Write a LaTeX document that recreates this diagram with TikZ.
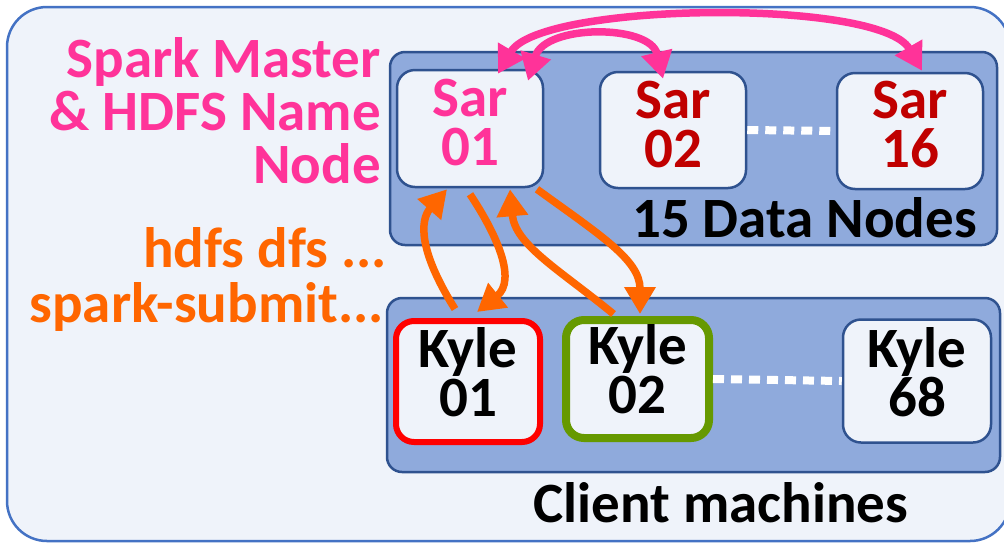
\documentclass[tikz,border=0pt]{standalone}
\usepackage{fontspec}
\setmainfont{Carlito}
\usetikzlibrary{arrows.meta,calc}
\definecolor{outerfill}{HTML}{EFF3FA}
\definecolor{outerline}{HTML}{4472C4}
\definecolor{groupfill}{HTML}{8FAADC}
\definecolor{groupline}{HTML}{2F528F}
\definecolor{pinkc}{HTML}{FF3399}
\definecolor{darkred}{HTML}{C00000}
\definecolor{orangec}{HTML}{FF6600}
\definecolor{greenc}{HTML}{669900}
\definecolor{redc}{HTML}{FF0000}
\tikzset{
  grp/.style={draw=groupline, line width=2.5pt, fill=groupfill, rounded corners=15pt, inner sep=0pt},
  nbox/.style={draw=groupline, line width=2.5pt, fill=outerfill, rounded corners=18pt, inner sep=0pt},
  ntext/.style={font=\fontsize{57}{49}\selectfont\bfseries, align=center, inner sep=0pt},
  lbl/.style={font=\fontsize{57}{53}\selectfont\bfseries, inner sep=0pt},
  dots/.style={draw=white, line width=8pt, dash pattern=on 11pt off 7pt},
  parrow/.style={draw=pinkc, line width=7.5pt, {Triangle[length=27pt,width=30pt]}-{Triangle[length=27pt,width=30pt]}},
  oarrow/.style={draw=orangec, line width=7.5pt, -{Triangle[length=27pt,width=30pt]}},
}
\begin{document}
\begin{tikzpicture}[x=1pt,y=-1pt]
\useasboundingbox[fill=white] (0,0) rectangle (1004,542);
% outer panel
\draw[draw=outerline, line width=2.5pt, fill=outerfill, rounded corners=40pt] (7,7) rectangle (1010,541);
% groups
\node[grp, minimum width=607pt, minimum height=193pt] (datagrp) at (693.5,148.5) {};
\node[grp, minimum width=613pt, minimum height=174pt] (clientgrp) at (693.5,385) {};
% data nodes
\node[nbox, minimum width=146pt, minimum height=117pt] (sar01) at (470,128.5) {};
\node[nbox, minimum width=146pt, minimum height=116pt] (sar02) at (673,130) {};
\node[nbox, minimum width=146pt, minimum height=116pt] (sar16) at (910,131) {};
\node[ntext, text=pinkc] (sar01t) at ([yshift=6pt]sar01.center) {Sar\\01};
\node[ntext, text=darkred] (sar02t) at ([yshift=6pt]sar02.center) {Sar\\02};
\node[ntext, text=darkred] (sar16t) at ([yshift=6pt]sar16.center) {Sar\\16};
\draw[dots] (sar02.east) -- (sar16.west);
\node[lbl, anchor=base east] (dnlabel) at (977,237) {15 Data Nodes};
% client nodes
\node[nbox, draw=redc, line width=6pt, minimum width=144pt, minimum height=121pt] (kyle01) at (468,381.5) {};
\node[nbox, draw=greenc, line width=8pt, minimum width=143pt, minimum height=118pt] (kyle02) at (637.5,379) {};
\node[nbox, minimum width=148pt, minimum height=123pt] (kyle68) at (917,381) {};
\node[ntext] (kyle01t) at ([yshift=9pt]kyle01.center) {Kyle\\01};
\node[ntext] (kyle02t) at ([yshift=10pt]kyle02.center) {Kyle\\02};
\node[ntext] (kyle68t) at ([yshift=9pt]kyle68.center) {Kyle\\68};
\draw[dots] (kyle02.east) -- (kyle68.west);
\node[lbl, anchor=base] (cmlabel) at (721,522) {Client machines};
% left labels
\node[lbl, text=pinkc, anchor=base east] (sm1) at (381,77) {Spark Master};
\node[lbl, text=pinkc, anchor=base east] (sm2) at (381,130) {\& HDFS Name};
\node[lbl, text=pinkc, anchor=base east] (sm3) at (381,183) {Node};
\node[lbl, text=orangec, anchor=base east] (cmd1) at (387,267) {hdfs dfs ...};
\node[lbl, text=orangec, anchor=base east] (cmd2) at (384,322) {spark-submit...};
% pink arrows
\draw[parrow] ([xshift=28pt,yshift=-5pt]sar01.north) .. controls (540,2) and (880,-2) .. ([xshift=12pt,yshift=1pt]sar16.north);
\draw[parrow] ([xshift=58pt,yshift=-12pt]sar01.north) .. controls (545,24) and (650,24) .. ([xshift=-10pt,yshift=-8pt]sar02.north);
% orange arrows
\draw[oarrow] ([xshift=-13pt,yshift=9pt]kyle01.north) .. controls (418,250) and (420,220) .. ([xshift=-23pt,yshift=-1pt]sar01.south);
\draw[oarrow] ([xshift=0pt,yshift=-6pt]sar01.south) .. controls (497,235) and (517,280) .. ([xshift=9pt,yshift=6pt]kyle01.north);
\draw[oarrow] ([xshift=-24pt,yshift=2pt]kyle02.north) .. controls (560,270) and (515,245) .. ([xshift=40pt,yshift=-1pt]sar01.south);
\draw[oarrow] ([xshift=67pt,yshift=-1pt]sar01.south) .. controls (600,235) and (640,260) .. ([xshift=2.5pt,yshift=2pt]kyle02.north);
\end{tikzpicture}
\end{document}
